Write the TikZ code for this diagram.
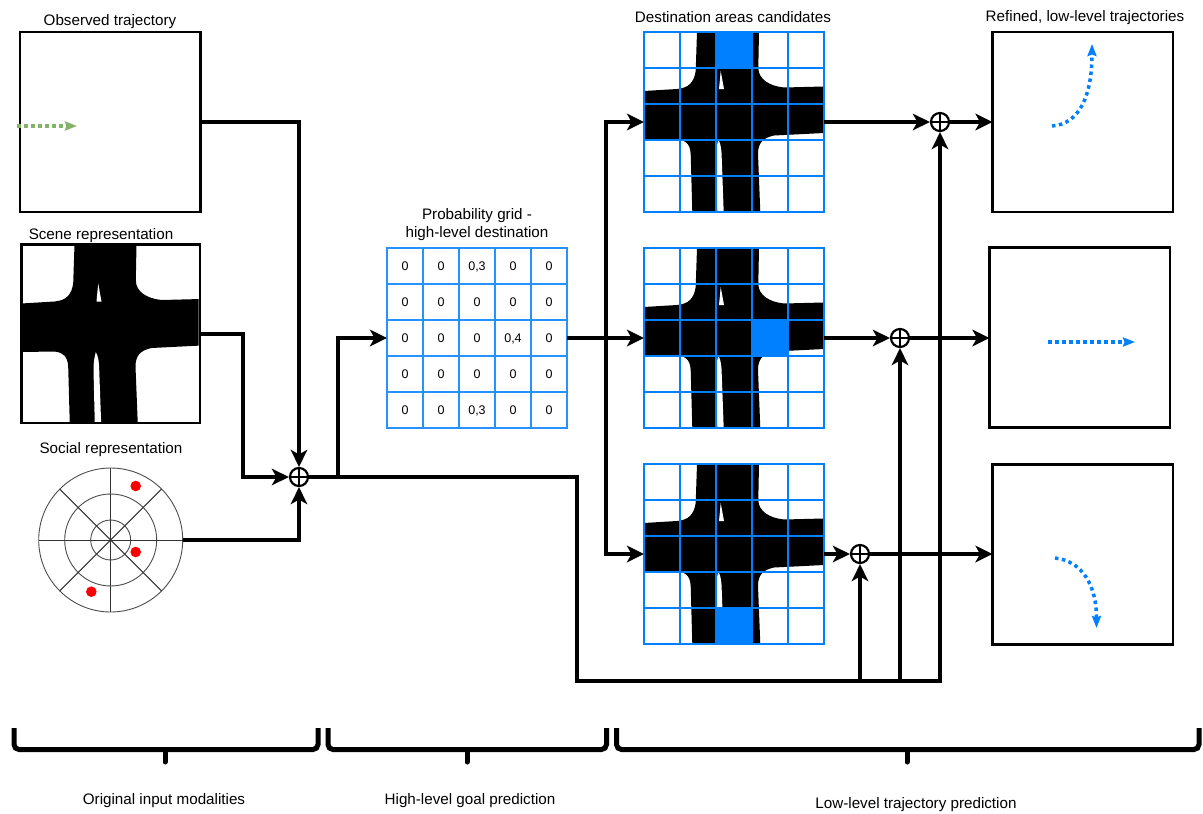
\documentclass[tikz,border=0pt]{standalone}
\usepackage{fontspec}
\setmainfont{Liberation Sans}
\usetikzlibrary{arrows.meta, calc}
\definecolor{gridblue}{HTML}{007FFF}
\definecolor{trajgreen}{HTML}{82B366}
\definecolor{agentred}{HTML}{FF0000}
\tikzset{
    framebox/.style={draw=black, line width=2.4pt, anchor=north west, inner sep=0pt, outer sep=0pt, minimum width=#1, minimum height=180pt},
    framebox/.default=180.5pt,
    gridbox/.style={draw=gridblue, line width=1.5pt, anchor=north west, inner sep=0pt, outer sep=0pt, minimum width=180pt, minimum height=180pt},
    conn/.style={line width=3.6pt, -{Stealth[length=17pt, width=16.5pt, inset=4.5pt]}},
    sumnode/.style={circle, draw=black, line width=2.2pt, inner sep=0pt, minimum size=18pt,
        path picture={\draw[line width=1.5pt] (path picture bounding box.north) -- (path picture bounding box.south)
            (path picture bounding box.west) -- (path picture bounding box.east);}},
    traj/.style={line width=3.5pt, dash pattern=on 3.5pt off 3.5pt, -{Stealth[length=12pt, width=9pt, inset=1.5pt]}},
    bracket/.style={line width=5pt, rounded corners=5pt},
    title/.style={font=\fontsize{15.2}{18}\selectfont, inner sep=0pt, align=center},
}
\newcommand{\crossing}[2]{%
    \begin{scope}[shift={(#1,#2)}]
        \fill[black] (53,0) -- (51.7,39) .. controls (50,50) and (45,56) .. (33,57) -- (0,59)
            -- (0,107.5) -- (33,107) .. controls (42,108) and (46,112) .. (46.7,122) -- (48.3,180)
            -- (116.3,180) -- (114,122) .. controls (114,112) and (118,106) .. (130,103.5) -- (180,101)
            -- (180,54.5) -- (140,55.5) .. controls (125,54) and (114.5,47) .. (114.3,36) -- (115,0) -- cycle;
        \fill[white] (76.7,39) -- (80,57) -- (75,57) -- cycle;
        \fill[white] (74.3,107.7) .. controls (77,112) and (77.5,118) .. (77.7,125) -- (79.7,180) -- (73.3,180) -- (72,125) .. controls (72,118) and (73,112) .. (74.3,107.7) -- cycle;
    \end{scope}
}
\newcommand{\cellgrid}[2]{%
    \foreach \k in {1,...,4} {
        \draw[gridblue, line width=1.5pt] ({#1+\k*36},#2) -- ({#1+\k*36},{#2+180});
        \draw[gridblue, line width=1.5pt] (#1,{#2+\k*36}) -- ({#1+180},{#2+\k*36});
    }
}
\newcommand{\bracketmark}[3]{%
    \draw[bracket] (#1,728) -- (#1,749.5) -- (#2,749.5) -- (#2,728);
    \draw[bracket, rounded corners=0pt, line cap=round] (#3,749.5) -- (#3,762);
}
\begin{document}
\begin{tikzpicture}[x=1pt, y=-1pt]
\useasboundingbox (0,0) rectangle (1203,814);

\begin{scope}
    \clip (22,245) rectangle (198.5,421.5);
    \crossing{21.5}{244.5}
\end{scope}
\crossing{644}{32}
\crossing{644}{248}
\crossing{644}{464}
\fill[gridblue] (716,32) rectangle (752,68);
\fill[gridblue] (752,320) rectangle (788,356);
\fill[gridblue] (716,608) rectangle (752,644);
\cellgrid{644}{32}
\cellgrid{644}{248}
\cellgrid{644}{464}

\node[framebox] (observed) at (19.8,32) {};
\node[framebox=178.5pt, minimum height=178.5pt] (scene) at (21.5,244.5) {};
\node[framebox] (refinedtop) at (992.5,32) {};
\node[framebox] (refinedmid) at (989.5,247.5) {};
\node[framebox] (refinedbot) at (992.5,464.5) {};
\node[gridbox] (candtop) at (644,32) {};
\node[gridbox] (candmid) at (644,248) {};
\node[gridbox] (candbot) at (644,464) {};

\node[title] (observedlabel) at (110,22) {Observed trajectory};
\node[title] (scenelabel) at (101,236) {Scene representation};
\node[title] (sociallabel) at (111,450) {Social representation};
\node[title] (problabel) at (477,225) {Probability grid -\\high-level destination};
\node[title] (candlabel) at (733,17) {Destination areas candidates};
\node[title] (refinedlabel) at (1085,18) {Refined, low-level trajectories};

\node[circle, draw=black!70, line width=0.9pt, inner sep=0pt, minimum size=144pt] (social) at (110.7,540) {};
\draw[black!70, line width=0.9pt] (110.7,540) circle (46) (110.7,540) circle (20);
\foreach \ang in {0,45,...,315}
    \draw[black!80, line width=1pt] (110.7,540) -- +(\ang:72);
\foreach \dotx/\doty in {135.7/486, 135.7/552, 91.3/591.7}
    \fill[agentred] (\dotx,\doty) circle (5.3);

\node[draw=gridblue!85, line width=1.3pt, anchor=north west, inner sep=0pt, outer sep=0pt, minimum width=180pt, minimum height=180pt] (probgrid) at (387,248) {};
\foreach \k in {1,...,4} {
    \draw[gridblue!85, line width=1.3pt] ({387+\k*36},248) -- ({387+\k*36},428);
    \draw[gridblue!85, line width=1.3pt] (387,{248+\k*36}) -- (567,{248+\k*36});
}
\foreach \row/\vala/\valb/\valc/\vald/\vale in {1/0/0/{0,3}/0/0, 2/0/0/0/0/0, 3/0/0/0/{0,4}/0, 4/0/0/0/0/0, 5/0/0/{0,3}/0/0}
    \foreach \val [count=\col] in {\vala,\valb,\valc,\vald,\vale}
        \node[font=\fontsize{12.5}{14}\selectfont, inner sep=0pt, text height=9pt, text depth=0pt] (cell\row\col) at ({387+36*\col-18},{248+36*\row-18}) {\val};

\node[sumnode] (suminput) at (299,477) {};
\node[sumnode] (sumtop) at (940,122) {};
\node[sumnode] (summid) at (900,338) {};
\node[sumnode] (sumbot) at (860,554) {};

\coordinate (sceneturn) at (243,477);
\coordinate (probturn) at (338,338);
\coordinate (split) at (606,338);
\coordinate (busturn) at (577,681);

\draw[conn] (observed.east) -| (suminput.north);
\draw[conn] (scene.east) -| (sceneturn) -- (suminput.west);
\draw[conn] (social.east) -| (suminput.south);
\draw[conn] (suminput.east) -| (probturn) -- (probgrid.west);
\draw[conn] (probgrid.east) -- (candmid.west);
\draw[conn] (split) |- (candtop.west);
\draw[conn] (split) |- (candbot.west);
\draw[conn] (suminput.east) -| (busturn) -| (sumtop.south);
\draw[conn] (sumbot |- busturn) -- (sumbot.south);
\draw[conn] (summid |- busturn) -- (summid.south);
\draw[conn] (candtop.east) -- (sumtop.west);
\draw[conn] (candmid.east) -- (summid.west);
\draw[conn] (candbot.east) -- (sumbot.west);
\draw[conn] (sumtop.east) -- (refinedtop.west |- sumtop);
\draw[conn] (summid.east) -- (refinedmid.west |- summid);
\draw[conn] (sumbot.east) -- (refinedbot.west |- sumbot);

\coordinate (greenstart) at (17,126);
\coordinate (greenend) at (77,126);
\coordinate (bluetopstart) at (1052,126);
\coordinate (bluetopend) at (1092,44);
\coordinate (bluemidstart) at (1048,342);
\coordinate (bluemidend) at (1135,342);
\coordinate (bluebotstart) at (1055,558);
\coordinate (bluebotend) at (1096.5,628);
\draw[traj, trajgreen] (greenstart) -- (greenend);
\draw[traj, gridblue] (bluetopstart) .. controls (1080,124) and (1092,95) .. (bluetopend);
\draw[traj, gridblue] (bluemidstart) -- (bluemidend);
\draw[traj, gridblue] (bluebotstart) .. controls (1082,561) and (1096.5,585) .. (bluebotend);

\bracketmark{14}{318}{165}
\bracketmark{328}{606.5}{467}
\bracketmark{616.5}{1199}{907}

\node[title] (inputlabel) at (164,801) {Original input modalities};
\node[title] (goallabel) at (470,801) {High-level goal prediction};
\node[title] (lowlabel) at (916,805) {Low-level trajectory prediction};
\end{tikzpicture}
\end{document}
